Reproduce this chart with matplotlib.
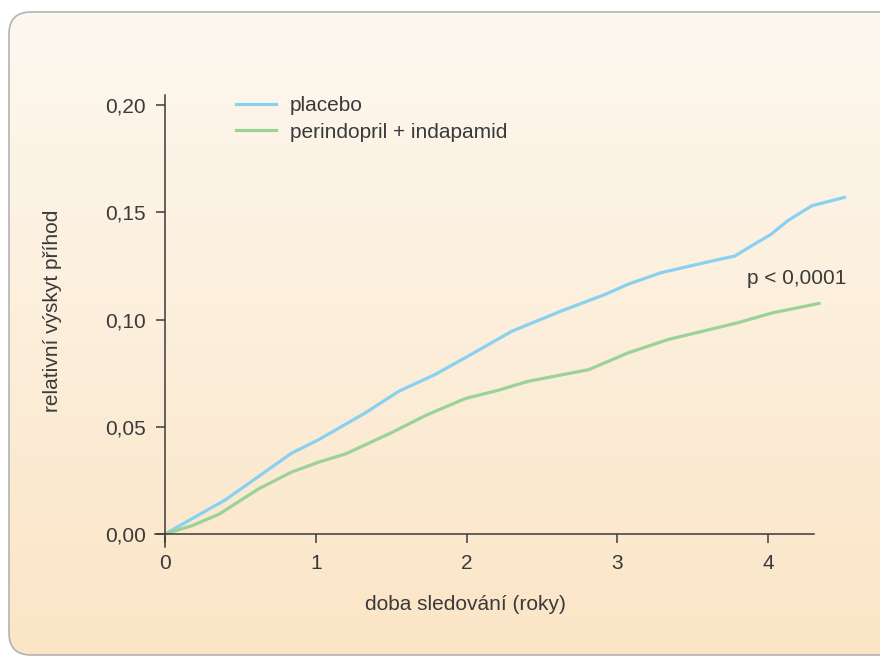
import matplotlib
matplotlib.use("Agg")
import matplotlib.pyplot as plt
import numpy as np
from matplotlib.lines import Line2D
from matplotlib.patches import FancyBboxPatch

# values (years, cumulative incidence)
placebo_years = [0, 0.40, 0.62, 0.84, 1.02, 1.33, 1.55, 1.79, 2.01, 2.30, 2.63,
                 2.92, 3.07, 3.29, 3.58, 3.78, 3.89, 4.02, 4.13, 4.29, 4.51]
placebo_vals = [0, 0.0159, 0.0268, 0.0377, 0.044, 0.0565, 0.0665, 0.0743, 0.0829,
                0.0945, 0.104, 0.1117, 0.1164, 0.1218, 0.1265, 0.1296, 0.1343,
                0.1397, 0.146, 0.153, 0.157]
combo_years = [0, 0.18, 0.36, 0.62, 0.84, 1.02, 1.20, 1.51, 1.73, 1.99, 2.21,
               2.41, 2.81, 3.07, 3.34, 3.80, 4.03, 4.34]
combo_vals = [0, 0.0039, 0.0093, 0.021, 0.0289, 0.0335, 0.0374, 0.0475, 0.0553,
              0.0631, 0.067, 0.0712, 0.0766, 0.0844, 0.0907, 0.0985, 0.1031, 0.1075]

series_labels = ["placebo", "perindopril + indapamid"]
x_ticks = [0, 1, 2, 3, 4]
y_ticks = [0.0, 0.05, 0.10, 0.15, 0.20]
y_tick_labels = ["0,00", "0,05", "0,10", "0,15", "0,20"]
p_text = "p < 0,0001"

BLUE = "#88d1f1"
GREEN = "#9bd298"
INK = "#3a3a3a"
AXIS = "#3a3a3a"

W, H = 880, 657
plt.rcParams["font.family"] = ["Liberation Sans", "DejaVu Sans"]

fig = plt.figure(figsize=(W / 100, H / 100), dpi=100, facecolor="white")

# rounded panel with a vertical cream-to-peach gradient
bg = fig.add_axes([0, 0, 1, 1])
bg.set_xlim(0, W)
bg.set_ylim(H, 0)
bg.axis("off")
top = np.array([253, 248, 240]) / 255
bot = np.array([251, 229, 198]) / 255
t = np.linspace(0, 1, 256)[:, None]
grad = (top * (1 - t) + bot * t)[:, None, :]
im = bg.imshow(grad, extent=(0, W, H, 0), aspect="auto", interpolation="bilinear")
panel = FancyBboxPatch((9, 12), 900, 643, boxstyle="round,pad=0,rounding_size=22",
                       fc="none", ec="#b3b3b3", lw=1.2)
bg.add_patch(panel)
im.set_clip_path(panel)

# main axes placed in pixel terms: x=0 at px 165, 150.75 px per year; y=0 at px 534
X0, PXY = 165, 150.75
Y0, PXV = 534, 2145
L, R, T, B = 150, 860, 90, 550
ax = fig.add_axes([L / W, 1 - B / H, (R - L) / W, (B - T) / H])
ax.patch.set_visible(False)
ax.set_xlim((L - X0) / PXY, (R - X0) / PXY)
ax.set_ylim((Y0 - B) / PXV, (Y0 - T) / PXV)

for s in ("top", "right"):
    ax.spines[s].set_visible(False)
ax.spines["left"].set_position(("data", 0))
ax.spines["bottom"].set_position(("data", 0))
ax.spines["left"].set_bounds(-0.006, 0.2045)
ax.spines["bottom"].set_bounds(-0.066, 4.305)
for s in ("left", "bottom"):
    ax.spines[s].set_color(AXIS)
    ax.spines[s].set_linewidth(1.1)

ax.set_xticks(x_ticks)
ax.set_xticklabels([str(v) for v in x_ticks])
ax.set_yticks(y_ticks)
ax.set_yticklabels(y_tick_labels)
ax.tick_params(direction="out", length=6.5, width=1.1, color=AXIS,
               labelsize=15, labelcolor=INK, pad=7)
ax.tick_params(axis="x", pad=8)

ax.plot(placebo_years, placebo_vals, color=BLUE, lw=2.3, clip_on=False,
        solid_capstyle="round", solid_joinstyle="round")
ax.plot(combo_years, combo_vals, color=GREEN, lw=2.3, clip_on=False,
        solid_capstyle="round", solid_joinstyle="round")

ax.text(3.86, 0.1189, p_text, fontsize=15, color=INK, ha="left", va="center")

handles = [Line2D([], [], color=BLUE, lw=2.3), Line2D([], [], color=GREEN, lw=2.3)]
ax.legend(handles, series_labels, loc="upper left",
          bbox_to_anchor=(236 / W, 1 - 96 / H), bbox_transform=fig.transFigure,
          frameon=False, borderpad=0, borderaxespad=0, handlelength=1.9,
          handletextpad=0.7, labelspacing=0.36, fontsize=15, labelcolor=INK)

fig.text(465 / W, 1 - 604 / H, "doba sledování (roky)", fontsize=15, color=INK,
         ha="center", va="center")
fig.text(52 / W, 1 - 311 / H, "relativní výskyt příhod", fontsize=15, color=INK,
         ha="center", va="center", rotation=90)

fig.savefig("out.png", dpi=100)
